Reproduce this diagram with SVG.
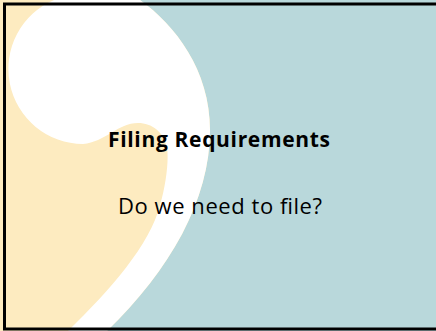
<svg xmlns="http://www.w3.org/2000/svg" width="436" height="331" viewBox="0 0 436 331">
<style>
.t{font-family:"Open Sans","DejaVu Sans",sans-serif;fill:#000;text-anchor:middle}
</style>
<rect x="0" y="0" width="436" height="331" fill="#b9d8db"/>
<path id="yellow" d="M0,0 L140,0 C175,25 210,70 210,130 C210,200 170,270 107,331 L0,331 Z" fill="#fdebc0"/>
<path id="comma" d="M68,331 C110,290 150,245 160,205 C166,185 169,160 167,148 C164,132 152,123 138,123 C118,123 105,142 83,144 A75,75 0 0 1 54,0 L140,0 C175,25 210,70 210,130 C210,200 170,270 107,331 Z" fill="#fff"/>
<rect x="4.5" y="4" width="440" height="325" fill="none" stroke="#000" stroke-width="3"/>
<text class="t" x="219" y="147" font-size="21" font-weight="bold" textLength="222" lengthAdjust="spacing">Filing Requirements</text>
<text class="t" x="220" y="214" font-size="22" textLength="204" lengthAdjust="spacing">Do we need to file?</text>
</svg>
